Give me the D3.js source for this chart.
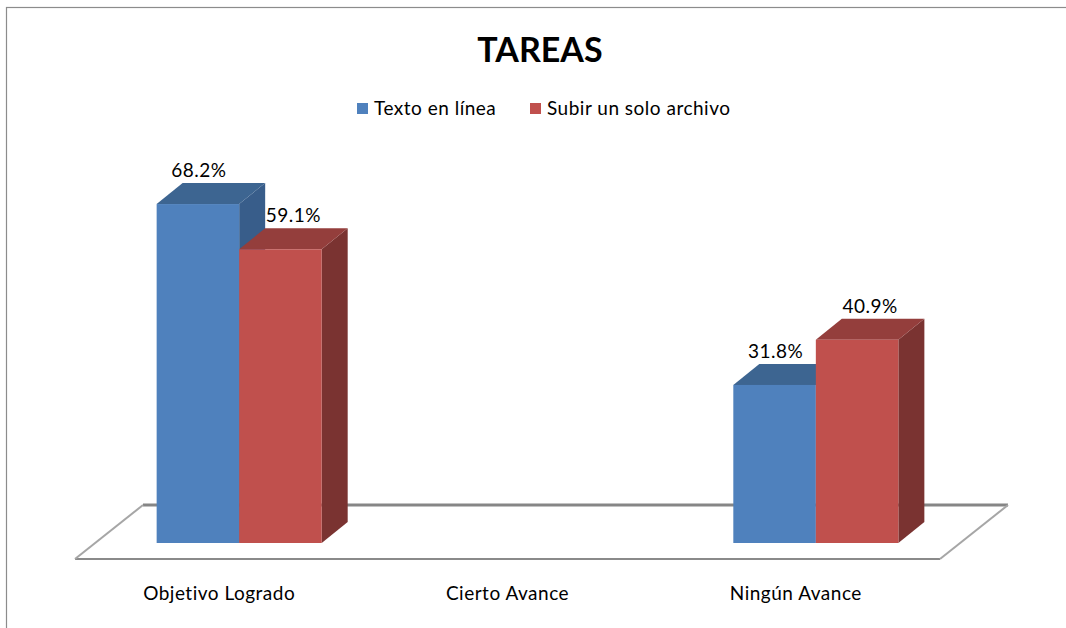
<!DOCTYPE html>
<html>
<head>
<meta charset="utf-8">
<script src="https://cdn.jsdelivr.net/npm/d3@7/dist/d3.min.js"></script>
<style>
  html, body { margin: 0; padding: 0; background: #fff; }
  svg { display: block; font-family: Lato, "Open Sans", sans-serif; }
</style>
</head>
<body>
<svg id="chart" width="1066" height="628"></svg>
<script>
// Chart data
const title = "TAREAS";
const categories = ["Objetivo Logrado", "Cierto Avance", "Ningún Avance"];
const seriesNames = ["Texto en línea", "Subir un solo archivo"];
const textoEnLinea = [68.2, null, 31.8];
const subirArchivo = [59.1, null, 40.9];

// Face colours per series: front, top, side
const palette = [
  { front: "#4F81BD", top: "#3D6591", side: "#385D8A" },
  { front: "#C0504D", top: "#943E3C", side: "#7A3331" }
];

const svg = d3.select("#chart");
const W = 1066, H = 628;
const textSize = 19, textSpacing = 0.5;

// Outer frame
svg.append("rect")
  .attr("x", 6.5).attr("y", 7.5)
  .attr("width", W + 10).attr("height", H + 10)
  .attr("fill", "#fff").attr("stroke", "#8c8c8c").attr("stroke-width", 1.2);

// Title
svg.append("text")
  .attr("x", 540).attr("y", 62)
  .attr("text-anchor", "middle")
  .attr("font-size", 34).attr("font-weight", "bold")
  .attr("fill", "#000")
  .text(title);

// Legend
const legendItems = [
  { name: seriesNames[0], x: 357 },
  { name: seriesNames[1], x: 530 }
];
const lg = svg.append("g");
legendItems.forEach((d, i) => {
  lg.append("rect").attr("x", d.x).attr("y", 103).attr("width", 11).attr("height", 11)
    .attr("fill", palette[i].front);
  lg.append("text").attr("x", d.x + 17).attr("y", 115)
    .attr("font-size", textSize).attr("letter-spacing", textSpacing)
    .attr("fill", "#000").text(d.name);
});

// 3D floor geometry
const floorFront = 559;          // y of the front floor edge
const floorDepth = [68, -54];    // shift from front edge to back edge
const barShift = [20, -16];      // shift from front floor edge to bar fronts
const barDepth = [26, -21];      // bar thickness in depth

const x = d3.scaleBand().domain(categories).range([75, 940]).paddingInner(0).paddingOuter(0);
const xs = d3.scaleBand().domain(seriesNames).range([0, x.bandwidth()]).paddingInner(0).paddingOuter(0.747);
const y = d3.scaleLinear().domain([0, 100]).range([0, 497]);

const x0 = x.range()[0], x1 = x.range()[1];
const fx = floorDepth[0], fy = floorDepth[1];

// Floor plane
svg.append("path")
  .attr("d", `M${x0},${floorFront}L${x1},${floorFront}L${x1 + fx},${floorFront + fy}L${x0 + fx},${floorFront + fy}Z`)
  .attr("fill", "#fff").attr("stroke", "none");
svg.append("line")
  .attr("x1", x0 + fx).attr("x2", x1 + fx)
  .attr("y1", floorFront + fy).attr("y2", floorFront + fy)
  .attr("stroke", "#868686").attr("stroke-width", 3);
svg.append("line")
  .attr("x1", x0).attr("x2", x1)
  .attr("y1", floorFront).attr("y2", floorFront)
  .attr("stroke", "#8a8a8a").attr("stroke-width", 2.2);
[x0, x1].forEach(px => {
  svg.append("line")
    .attr("x1", px).attr("y1", floorFront)
    .attr("x2", px + fx).attr("y2", floorFront + fy)
    .attr("stroke", "#a6a6a6").attr("stroke-width", 2);
});

// Bars
const seriesValues = [textoEnLinea, subirArchivo];
const baseY = floorFront + barShift[1];
const dx = barDepth[0], dy = barDepth[1];
const labelOffset = [1, 13];

const bars = svg.append("g");
const labels = svg.append("g");

categories.forEach((cat, ci) => {
  seriesNames.forEach((s, si) => {
    const v = seriesValues[si][ci];
    if (v == null) return;
    const bx = x(cat) + barShift[0] + xs(s);
    const w = xs.bandwidth();
    const h = y(v);
    const top = baseY - h;
    const c = palette[si];
    const g = bars.append("g");
    // side face
    g.append("path")
      .attr("d", `M${bx + w},${top}L${bx + w + dx},${top + dy}L${bx + w + dx},${baseY + dy}L${bx + w},${baseY}Z`)
      .attr("fill", c.side);
    // top face
    g.append("path")
      .attr("d", `M${bx},${top}L${bx + w},${top}L${bx + w + dx},${top + dy}L${bx + dx},${top + dy}Z`)
      .attr("fill", c.top);
    // front face
    g.append("rect")
      .attr("x", bx).attr("y", top).attr("width", w).attr("height", h)
      .attr("fill", c.front);

    labels.append("text")
      .attr("x", bx + w / 2 + labelOffset[si])
      .attr("y", top - 27)
      .attr("text-anchor", "middle")
      .attr("font-size", textSize).attr("letter-spacing", textSpacing)
      .attr("fill", "#000")
      .text(v.toFixed(1) + "%");
  });
});

// Category axis along the front floor edge
const axis = d3.axisBottom(x).tickSize(0).tickPadding(0);
const ax = svg.append("g")
  .attr("transform", `translate(0, 586)`)
  .call(axis);
ax.select(".domain").remove();
ax.selectAll("text")
  .attr("font-size", textSize).attr("letter-spacing", textSpacing)
  .attr("font-family", "Lato, sans-serif")
  .attr("fill", "#000").attr("dy", "0.72em");
</script>
</body>
</html>
